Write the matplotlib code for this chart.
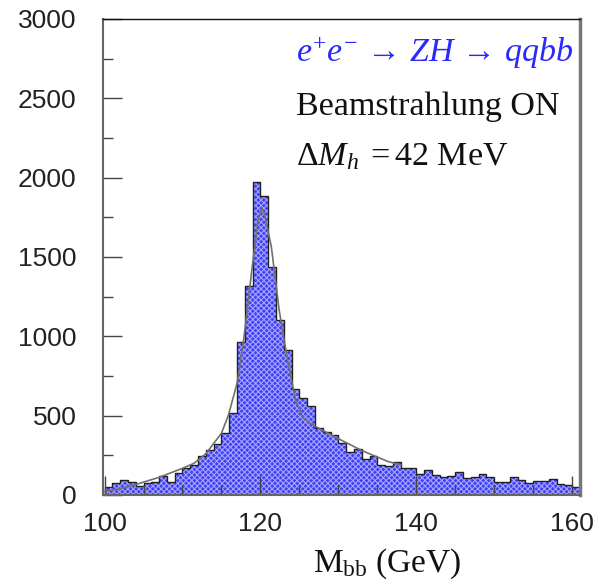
import matplotlib
matplotlib.use('Agg')
import matplotlib.pyplot as plt

# 1 GeV bins, left edges 100 ... 160
bin_edges = list(range(100, 162))
counts = [48, 74, 95, 80, 59, 78, 84, 120, 84, 140,
          168, 190, 245, 283, 321, 389, 519, 962, 1319, 1974,
          1885, 1438, 1102, 913, 666, 613, 561, 424, 400, 378,
          330, 270, 288, 229, 245, 190, 180, 205, 168, 172,
          135, 158, 126, 116, 118, 147, 108, 116, 130, 116,
          82, 82, 111, 97, 76, 90, 86, 100, 70, 60,
          52]

# fitted curve, points
fit_x = [100, 102, 103.8, 107, 110, 111.5, 113, 115, 115.9, 117, 117.8,
         118.9, 119.7, 120.2, 120.5, 121.4, 122.4, 123.4, 124.5, 125.5,
         127.2, 129.8, 133, 136.4, 138]
fit_y = [22, 40, 63, 111, 168, 200, 260, 389, 504, 704, 956,
         1418, 1733, 1806, 1775, 1565, 1166, 871, 599, 483,
         428, 360, 280, 210, 190]

plt.rcParams['hatch.linewidth'] = 0.8
plt.rcParams['mathtext.fontset'] = 'custom'
plt.rcParams['mathtext.rm'] = 'Liberation Serif'
plt.rcParams['mathtext.it'] = 'Liberation Serif:italic'

fig = plt.figure(figsize=(5.97, 5.80), dpi=100)
ax = fig.add_axes([0.1725, 0.1466, 0.799, 0.8207])

ax.stairs(counts, bin_edges, fill=True, facecolor='#4040f4',
          edgecolor='#a4a4ff', hatch='xxxxxx', linewidth=0)
ax.stairs(counts, bin_edges, color='#202020', linewidth=1.0)
ax.plot(fit_x, fit_y, color='#707070', linewidth=1.2)

ax.set_xlim(99.8, 161)
ax.set_ylim(0, 3000)
ax.set_xticks([100, 120, 140, 160])
ax.set_xticks(range(100, 161, 5), minor=True)
ax.set_yticks(range(0, 3001, 500))
ax.set_yticks(range(0, 3001, 250), minor=True)

tick_font = {'family': 'Liberation Sans', 'size': 19}
ax.set_xticklabels(['100', '120', '140', '160'], fontdict=tick_font, color='#222222')
ax.set_yticklabels([str(v) for v in range(0, 3001, 500)], fontdict=tick_font, color='#222222')
ax.tick_params(axis='both', which='major', direction='in', length=14, width=1.0, color='#444444')
ax.tick_params(axis='both', which='minor', direction='in', length=7.5, width=1.0, color='#444444')
ax.tick_params(axis='y', which='major', pad=19)
ax.tick_params(axis='x', which='major', pad=12)

for side in ['left', 'bottom']:
    ax.spines[side].set_color('#666666')
    ax.spines[side].set_linewidth(1.5)
ax.spines['right'].set_color('#777777')
ax.spines['right'].set_linewidth(2.5)
ax.spines['top'].set_color('#111111')
ax.spines['top'].set_linewidth(1.0)

ax.text(0.405, 0.910, r'$e^{+}e^{-}\,\rightarrow\, ZH\,\rightarrow\, qqbb$', transform=ax.transAxes,
        color='#2a2aff', fontsize=24.5, ha='left', va='baseline')
ax.text(0.405, 0.798, 'Beamstrahlung ON', transform=ax.transAxes,
        family='Liberation Serif', fontsize=24.5, ha='left', va='baseline', color='#111111')
ax.text(0.405, 0.693, r'$\Delta M_{h}\;=42\ \mathrm{MeV}$', transform=ax.transAxes,
        fontsize=24.5, ha='left', va='baseline', color='#111111')

fig.text(387 / 597, 1 - 572 / 580, r'$\mathrm{M_{bb}}$ (GeV)', family='Liberation Serif',
         fontsize=24, ha='center', va='baseline', color='#111111')

plt.savefig('out.png', dpi=100)
